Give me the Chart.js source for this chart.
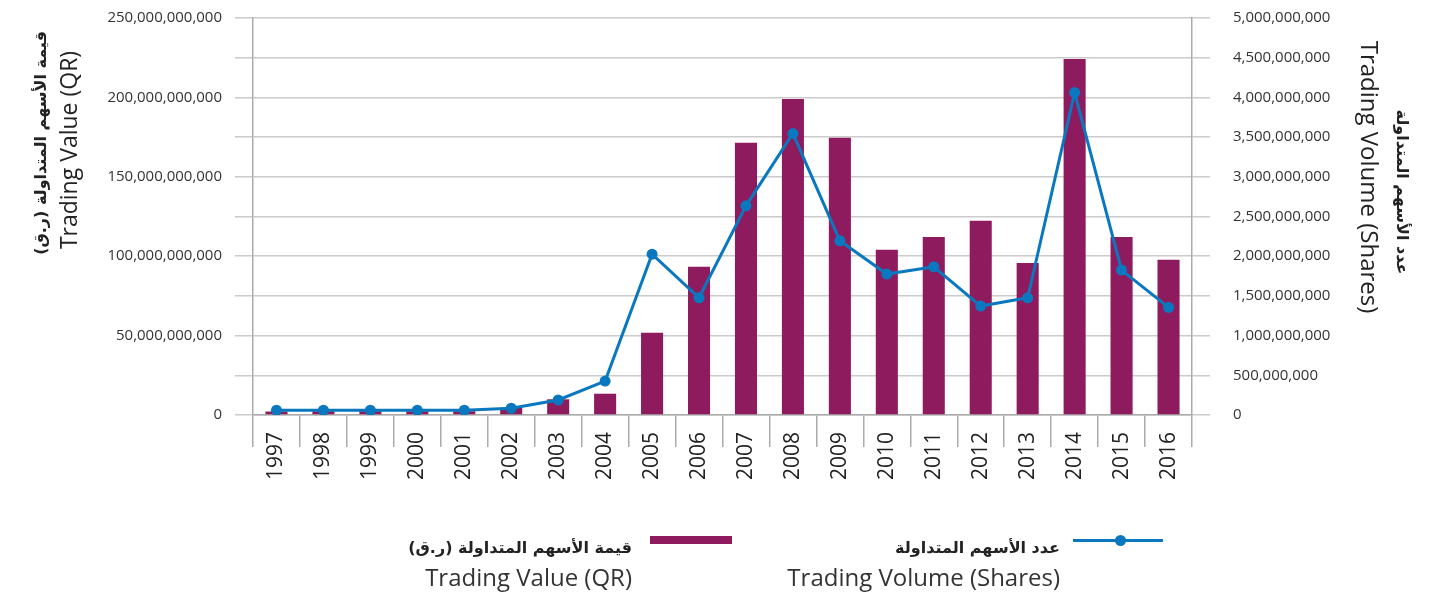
<!DOCTYPE html>
<html>
<head>
<meta charset="utf-8">
<script src="https://cdn.jsdelivr.net/npm/chart.js@4.4.1/dist/chart.umd.min.js"></script>
<style>
    html, body { margin: 0; padding: 0; background: #fff; }
    #wrap { position: relative; width: 1449px; height: 594px; overflow: hidden; }
    .legText { position: absolute; text-align: right; color: #333; font-family: "Open Sans", "DejaVu Sans", sans-serif; }
    .legText .ar { font-weight: bold; font-size: 16px; line-height: 26px; color: #222; font-family: "DejaVu Sans", sans-serif; }
    .legText .en { font-size: 24px; line-height: 32px; }
</style>
</head>
<body>
<div id="wrap">
    <canvas id="comboChart" width="1449" height="594"></canvas>

    <div class="legText" style="right: 817px; top: 535px;">
        <div class="ar" dir="rtl">قيمة الأسهم المتداولة (ر.ق)</div>
        <div class="en">Trading Value (QR)</div>
    </div>
    <div style="position:absolute; left:650px; top:536px; width:82px; height:8px; background:#8e1b5e;"></div>

    <div class="legText" style="right: 389px; top: 535px;">
        <div class="ar" dir="rtl">عدد الأسهم المتداولة</div>
        <div class="en">Trading Volume (Shares)</div>
    </div>
    <div style="position:absolute; left:1073px; top:539px; width:90px; height:3px; background:#0a78bf;"></div>
    <div style="position:absolute; left:1115px; top:535px; width:11px; height:11px; border-radius:50%; background:#0a78bf;"></div>
</div>

<script>
const years = ["1997", "1998", "1999", "2000", "2001", "2002", "2003", "2004", "2005", "2006",
               "2007", "2008", "2009", "2010", "2011", "2012", "2013", "2014", "2015", "2016"];

// trading value, QR
const tradingValue = [2.2e9, 2.4e9, 2.4e9, 2.4e9, 2.4e9, 4.5e9, 9.9e9, 13.4e9, 51.8e9, 93.4e9,
                      171.5e9, 199e9, 174.6e9, 104.1e9, 112.1e9, 122.4e9, 95.7e9, 224.2e9, 112.1e9, 97.8e9];

// trading volume, shares
const tradingVolume = [60e6, 60e6, 60e6, 60e6, 60e6, 85e6, 189e6, 428e6, 2026e6, 1476e6,
                       2634e6, 3545e6, 2194e6, 1775e6, 1866e6, 1372e6, 1476e6, 4061e6, 1825e6, 1355e6];

const valueTitle = ["قيمة الأسهم المتداولة (ر.ق)", "Trading Value (QR)"];
const volumeTitle = ["عدد الأسهم المتداولة", "Trading Volume (Shares)"];

const barColor = "#8e1b5e";
const lineColor = "#0a78bf";
const gridColor = "#cbcbcb";
const axisColor = "#ababab";

// axis titles drawn by hand so they sit where the original has them
const axisTitles = {
    id: "axisTitles",
    afterDraw(chart) {
        const ctx = chart.ctx;
        const put = (text, x, y, angle, font, rtl) => {
            ctx.save();
            ctx.translate(x, y);
            ctx.rotate(angle);
            ctx.font = font;
            ctx.fillStyle = "#222";
            ctx.textAlign = "center";
            ctx.textBaseline = "middle";
            ctx.direction = rtl ? "rtl" : "ltr";
            ctx.fillText(text, 0, 0);
            ctx.restore();
        };
        put(valueTitle[0], 42, 143, -Math.PI / 2, "bold 16px 'DejaVu Sans'", true);
        put(valueTitle[1], 70, 150, -Math.PI / 2, "23px 'Open Sans'", false);
        put(volumeTitle[0], 1401, 192, Math.PI / 2, "bold 16px 'DejaVu Sans'", true);
        put(volumeTitle[1], 1368, 177, Math.PI / 2, "24px 'Open Sans'", false);
    }
};

// fixed axis sizes so the plot area lands where the original's does
const fixWidth = w => scale => {
    scale.width = w;
    scale.paddingTop = 0;
    scale.paddingBottom = 0;
};

const ctx = document.getElementById("comboChart").getContext("2d");

new Chart(ctx, {
    data: {
        labels: years,
        datasets: [
            {
                type: "line",
                label: "Trading Volume (Shares)",
                data: tradingVolume,
                yAxisID: "y1",
                borderColor: lineColor,
                backgroundColor: lineColor,
                borderWidth: 3,
                pointRadius: 5.5,
                pointBorderWidth: 0,
                pointBackgroundColor: lineColor,
                tension: 0,
                order: 1
            },
            {
                type: "bar",
                label: "Trading Value (QR)",
                data: tradingValue,
                yAxisID: "y",
                backgroundColor: barColor,
                barPercentage: 0.47,
                categoryPercentage: 1,
                order: 2
            }
        ]
    },
    options: {
        responsive: false,
        animation: false,
        layout: { padding: { top: 18, left: 0, right: 0, bottom: 0 } },
        plugins: {
            legend: { display: false },
            tooltip: { enabled: false }
        },
        scales: {
            x: {
                offset: true,
                grid: { offset: true, drawOnChartArea: false, tickLength: 32, color: axisColor, lineWidth: 1.5 },
                border: { color: axisColor, width: 1.5 },
                ticks: {
                    minRotation: 90, maxRotation: 90, autoSkip: false, padding: -15,
                    color: "#222", font: { family: "Open Sans", size: 21 }
                },
                afterFit(scale) { scale.height = 179; }
            },
            y: {
                position: "left",
                min: 0,
                max: 250e9,
                grid: { color: gridColor, lineWidth: 1.5, tickLength: 18 },
                border: { color: axisColor, width: 1.5 },
                ticks: {
                    stepSize: 25e9,
                    padding: 13,
                    color: "#333",
                    font: { family: "Open Sans", size: 15 },
                    callback: (v, i) => (i % 2 ? "" : v.toLocaleString("en-US"))
                },
                afterFit: fixWidth(253)
            },
            y1: {
                position: "right",
                min: 0,
                max: 5e9,
                grid: { drawOnChartArea: false, color: gridColor, lineWidth: 1.5, tickLength: 18 },
                border: { color: axisColor, width: 1.5 },
                ticks: {
                    stepSize: 5e8,
                    padding: 23,
                    color: "#333",
                    font: { family: "Open Sans", size: 15 },
                    callback: v => v.toLocaleString("en-US")
                },
                afterFit: fixWidth(257)
            }
        }
    },
    plugins: [axisTitles]
});
</script>
</body>
</html>
